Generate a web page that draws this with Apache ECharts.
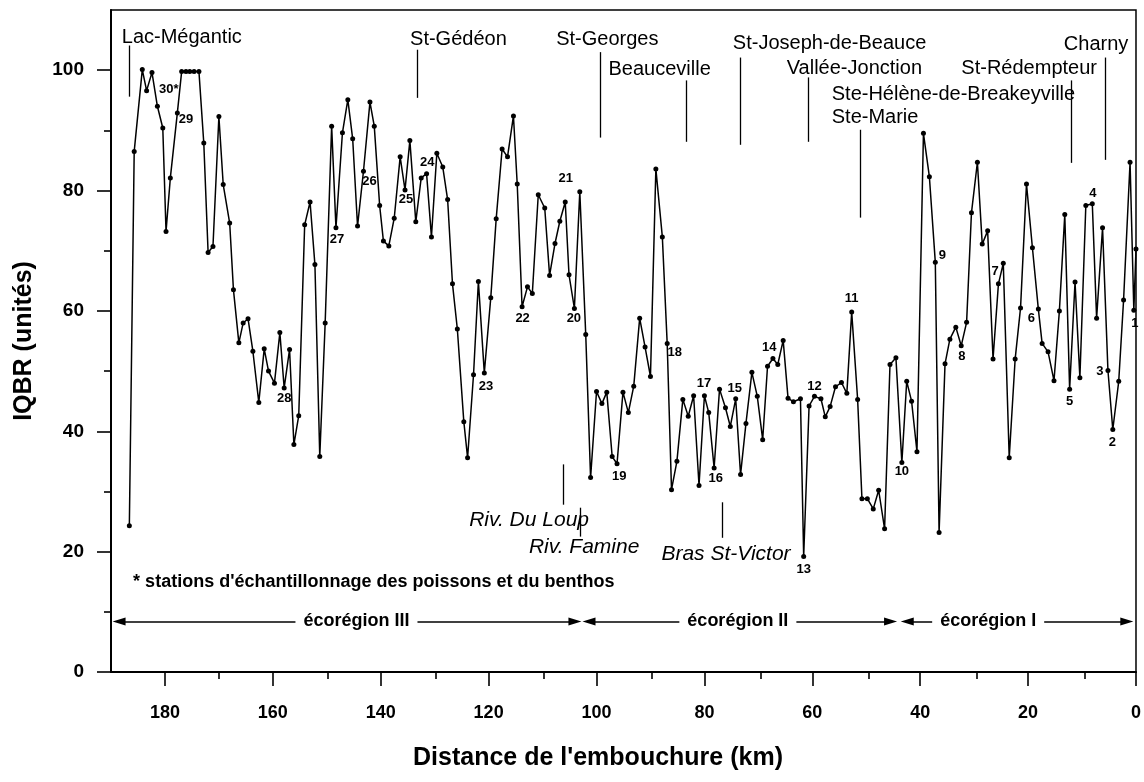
<!DOCTYPE html>
<html>
<head>
<meta charset="utf-8">
<script src="https://cdn.jsdelivr.net/npm/echarts@6/dist/echarts.min.js"></script>
<style>
  html, body { margin: 0; padding: 0; background: #fff; }
  #chart { width: 1144px; height: 782px; }
</style>
</head>
<body>
<div id="chart"></div>
<script>
// distance de l'embouchure (km) et IQBR
const kmValues = [
  186.6, 185.7, 184.2, 183.4, 182.4, 181.4, 180.4, 179.8, 179.0, 177.7,
  176.9, 176.1, 175.4, 174.6, 173.7, 172.8, 172.0, 171.1, 170.0, 169.2,
  168.0, 167.3, 166.3, 165.5, 164.6, 163.7, 162.6, 161.6, 160.8, 159.7,
  158.7, 157.9, 156.9, 156.1, 155.2, 154.1, 153.1, 152.2, 151.3, 150.3,
  149.1, 148.3, 147.1, 146.1, 145.2, 144.3, 143.2, 142.0, 141.2, 140.2,
  139.5, 138.5, 137.5, 136.4, 135.5, 134.6, 133.5, 132.5, 131.5, 130.6,
  129.6, 128.5, 127.6, 126.7, 125.8, 124.6, 123.9, 122.8, 121.9, 120.8,
  119.6, 118.6, 117.5, 116.5, 115.4, 114.7, 113.8, 112.8, 111.9, 110.8,
  109.6, 108.7, 107.7, 106.8, 105.8, 105.1, 104.1, 103.1, 102.0, 101.1,
  100.0, 99.0, 98.1, 97.1, 96.2, 95.1, 94.1, 93.1, 92.0, 91.0,
  90.0, 89.0, 87.8, 86.9, 86.1, 85.1, 84.0, 83.0, 82.0, 81.0,
  80.0, 79.2, 78.2, 77.2, 76.1, 75.2, 74.2, 73.3, 72.3, 71.2,
  70.2, 69.2, 68.3, 67.3, 66.4, 65.4, 64.5, 63.5, 62.2, 61.6,
  60.6, 59.6, 58.4, 57.6, 56.7, 55.7, 54.6, 53.6, 52.7, 51.6,
  50.8, 49.8, 48.7, 47.7, 46.6, 45.6, 44.5, 43.4, 42.5, 41.6,
  40.6, 39.4, 38.3, 37.2, 36.5, 35.4, 34.5, 33.4, 32.4, 31.4,
  30.5, 29.4, 28.5, 27.5, 26.5, 25.5, 24.6, 23.5, 22.4, 21.4,
  20.3, 19.2, 18.1, 17.4, 16.3, 15.2, 14.2, 13.2, 12.3, 11.3,
  10.4, 9.3, 8.1, 7.3, 6.2, 5.2, 4.3, 3.2, 2.3, 1.1,
  0.4, 0
]
const iqbrValues = [
  24.3, 86.5, 100.1, 96.6, 99.6, 94.0, 90.4, 73.2, 82.1, 92.9,
  99.8, 99.8, 99.8, 99.8, 99.8, 87.9, 69.7, 70.7, 92.3, 81.0,
  74.6, 63.5, 54.7, 58.0, 58.7, 53.3, 44.8, 53.7, 50.0, 48.0,
  56.4, 47.2, 53.6, 37.8, 42.6, 74.3, 78.1, 67.7, 35.8, 58.0,
  90.7, 73.8, 89.6, 95.1, 88.6, 74.1, 83.2, 94.7, 90.7, 77.5,
  71.6, 70.8, 75.4, 85.6, 80.1, 88.3, 74.8, 82.1, 82.8, 72.3,
  86.2, 83.9, 78.5, 64.5, 57.0, 41.6, 35.6, 49.4, 64.9, 49.7,
  62.2, 75.3, 86.9, 85.6, 92.4, 81.1, 60.7, 64.0, 62.9, 79.3,
  77.1, 65.9, 71.2, 74.9, 78.1, 66.0, 60.4, 79.8, 56.1, 32.3,
  46.6, 44.6, 46.5, 35.8, 34.6, 46.5, 43.1, 47.5, 58.8, 54.0,
  49.1, 83.6, 72.3, 54.6, 30.3, 35.0, 45.3, 42.5, 45.9, 31.0,
  45.9, 43.1, 33.9, 47.0, 43.9, 40.8, 45.4, 32.8, 41.3, 49.8,
  45.8, 38.6, 50.8, 52.1, 51.1, 55.1, 45.5, 44.9, 45.4, 19.2,
  44.2, 45.8, 45.4, 42.4, 44.1, 47.4, 48.1, 46.3, 59.8, 45.3,
  28.8, 28.8, 27.1, 30.2, 23.8, 51.1, 52.2, 34.8, 48.3, 45.0,
  36.6, 89.5, 82.3, 68.1, 23.2, 51.2, 55.3, 57.3, 54.2, 58.1,
  76.3, 84.7, 71.1, 73.3, 52.0, 64.5, 67.9, 35.6, 52.0, 60.5,
  81.1, 70.5, 60.3, 54.6, 53.2, 48.4, 60.0, 76.0, 47.0, 64.8,
  48.9, 77.5, 77.8, 58.8, 73.8, 50.1, 40.3, 48.3, 61.8, 84.7,
  60.1, 70.3
]

// graduations
const xTicks = [0, 20, 40, 60, 80, 100, 120, 140, 160, 180]
const xMinorTicks = [10, 30, 50, 70, 90, 110, 130, 150, 170]
const yTicks = [0, 20, 40, 60, 80, 100]
const yMinorTicks = [10, 30, 50, 70, 90]

// numéros des stations (position du texte en km / IQBR)
const stationNames = ['1', '2', '3', '4', '5', '6', '7', '8', '9', '10',
  '11', '12', '13', '14', '15', '16', '17', '18', '19', '20',
  '21', '22', '23', '24', '25', '26', '27', '28', '29', '30*']
const stationKm = [0.2, 4.4, 6.7, 8.0, 12.3, 19.4, 26.1, 32.3, 35.9, 43.4,
  52.7, 59.6, 61.6, 68.0, 74.4, 77.9, 80.1, 85.5, 95.8, 104.2,
  105.7, 113.7, 120.5, 131.4, 135.3, 142.1, 148.1, 157.9, 176.1, 179.3]
const stationVal = [58.0, 38.1, 50.0, 79.6, 45.0, 58.8, 66.6, 52.4, 69.2, 33.3,
  62.0, 47.5, 17.1, 53.9, 47.2, 32.1, 48.0, 53.1, 32.5, 58.7,
  82.0, 58.8, 47.5, 84.6, 78.5, 81.5, 71.8, 45.5, 91.9, 96.8]

// municipalités (haut du graphique)
const townNames = ['Lac-Mégantic', 'St-Gédéon', 'St-Georges', 'Beauceville',
  'St-Joseph-de-Beauce', 'Vallée-Jonction', 'Ste-Hélène-de-Breakeyville',
  'Ste-Marie', 'St-Rédempteur', 'Charny']
const townKm = [188.0, 125.6, 98.0, 88.3, 56.8, 52.2, 56.4, 56.4, 19.8, 7.4]
const townVal = [105.4, 105.1, 105.1, 100.1, 104.4, 100.3, 95.9, 92.1, 100.3, 104.2]
const townAlign = ['left', 'center', 'center', 'center', 'center', 'center', 'left', 'left', 'center', 'center']
const townLineKm = [186.6, 133.3, 99.4, 83.4, 73.4, 60.7, 51.1, 12.0, 5.7]
const townLineTop = [104.1, 103.4, 103.0, 98.3, 102.1, 98.8, 90.1, 98.3, 102.1]
const townLineBottom = [95.6, 95.4, 88.8, 88.1, 87.6, 88.1, 75.5, 84.6, 85.1]

// tributaires
const riverNames = ['Riv. Du Loup', 'Riv. Famine', 'Bras St-Victor']
const riverKm = [112.5, 102.3, 76.0]
const riverVal = [25.2, 20.7, 19.5]
const riverLineKm = [106.2, 103.1, 76.7]
const riverLineTop = [34.5, 27.3, 28.2]
const riverLineBottom = [27.8, 22.5, 22.3]

// écorégions
const ecoNames = ['écorégion III', 'écorégion II', 'écorégion I']
const ecoStart = [188.5, 101.4, 42.4]
const ecoEnd = [104.0, 45.5, 1.7]
const ecoLabelKm = [144.5, 73.8, 27.4]
const ecoLevel = 8.4

const legendText = "* stations d'échantillonnage des poissons et du benthos"

const FONT = "'Liberation Sans', Arial, Helvetica, sans-serif"
const chart = echarts.init(document.getElementById('chart'))

const lineData = kmValues.map((km, i) => [km, iqbrValues[i]])

const refLines = townLineKm.map((km, i) => [
  { coord: [km, townLineTop[i]] },
  { coord: [km, townLineBottom[i]] }
]).concat(riverLineKm.map((km, i) => [
  { coord: [km, riverLineTop[i]] },
  { coord: [km, riverLineBottom[i]] }
]))

const ecoArrows = ecoStart.map((km, i) => [
  { coord: [km, ecoLevel] },
  { coord: [ecoEnd[i], ecoLevel] }
])

const tickStyle = { color: '#000', width: 1.6 }
const labelStyle = { color: '#000', fontFamily: FONT, fontWeight: 'bold', fontSize: 18 }
const gridBox = { left: 111, right: 5, top: 10, bottom: 110 }

const option = {
  animation: false,
  backgroundColor: '#fff',
  grid: [
    Object.assign({ show: true, borderColor: '#000', borderWidth: 1.5 }, gridBox),
    Object.assign({ show: false }, gridBox) // grille jumelle : petites graduations
  ],
  xAxis: [
    {
      gridIndex: 0, type: 'value', min: 0, max: 190, interval: 20, inverse: true, position: 'bottom',
      axisLine: { show: true, onZero: false, lineStyle: { color: '#000', width: 2 } },
      axisTick: { show: true, length: 14, customValues: xTicks, lineStyle: tickStyle },
      axisLabel: Object.assign({ customValues: xTicks, margin: 32 }, labelStyle),
      splitLine: { show: false }
    },
    {
      gridIndex: 1, type: 'value', min: 0, max: 190, interval: 10, inverse: true, position: 'bottom',
      axisLine: { show: false, onZero: false },
      axisTick: { show: true, length: 7, customValues: xMinorTicks, lineStyle: tickStyle },
      axisLabel: { show: false },
      splitLine: { show: false }
    }
  ],
  yAxis: [
    {
      gridIndex: 0, type: 'value', min: 0, max: 110, interval: 20, position: 'left',
      axisLine: { show: true, onZero: false, lineStyle: { color: '#000', width: 2 } },
      axisTick: { show: true, length: 14, customValues: yTicks, lineStyle: tickStyle },
      axisLabel: Object.assign({ customValues: yTicks, margin: 27 }, labelStyle, { fontSize: 19 }),
      splitLine: { show: false }
    },
    {
      gridIndex: 1, type: 'value', min: 0, max: 110, interval: 10, position: 'left',
      axisLine: { show: false, onZero: false },
      axisTick: { show: true, length: 7, customValues: yMinorTicks, lineStyle: tickStyle },
      axisLabel: { show: false },
      splitLine: { show: false }
    }
  ],
  series: [
    {
      type: 'line',
      data: lineData,
      xAxisIndex: 0,
      yAxisIndex: 0,
      symbol: 'circle',
      symbolSize: 5,
      itemStyle: { color: '#000' },
      lineStyle: { color: '#000', width: 1.5 },
      z: 3,
      markLine: {
        silent: true,
        symbol: 'none',
        label: { show: false },
        lineStyle: { color: '#000', width: 1.3, type: 'solid' },
        data: refLines
      }
    },
    {
      type: 'line',
      data: [],
      xAxisIndex: 0,
      yAxisIndex: 0,
      markLine: {
        silent: true,
        symbol: ['triangle', 'triangle'],
        symbolSize: [8, 13],
        label: { show: false },
        lineStyle: { color: '#000', width: 1.5, type: 'solid' },
        itemStyle: { color: '#000' },
        data: ecoArrows
      }
    }
  ]
}
chart.setOption(option)

// textes d'annotation placés avec les échelles du graphique
const toPx = (km, v) => chart.convertToPixel({ seriesIndex: 0 }, [km, v])
const textEl = (x, y, text, opts) => ({
  type: 'text',
  x: x,
  y: y,
  z: 100,
  rotation: opts.rotation || 0,
  style: Object.assign({
    text: text,
    fill: '#000',
    fontFamily: FONT,
    fontSize: opts.size,
    fontWeight: opts.weight || 'normal',
    fontStyle: opts.style || 'normal',
    align: opts.align || 'center',
    textAlign: opts.align || 'center',
    verticalAlign: 'middle',
    textVerticalAlign: 'middle'
  }, opts.extra || {})
})

const graphics = []
stationNames.forEach((name, i) => {
  const p = toPx(stationKm[i], stationVal[i])
  graphics.push(textEl(p[0], p[1], name, { size: 13, weight: 'bold' }))
})
townNames.forEach((name, i) => {
  const p = toPx(townKm[i], townVal[i])
  graphics.push(textEl(p[0], p[1], name, { size: 20, align: townAlign[i] }))
})
riverNames.forEach((name, i) => {
  const p = toPx(riverKm[i], riverVal[i])
  graphics.push(textEl(p[0], p[1], name, { size: 21, style: 'italic' }))
})
ecoNames.forEach((name, i) => {
  const p = toPx(ecoLabelKm[i], ecoLevel)
  graphics.push(textEl(p[0], p[1], name, {
    size: 18, weight: 'bold',
    extra: { backgroundColor: '#fff', padding: [2, 8] }
  }))
})
const lp = toPx(185.9, 14.9)
graphics.push(textEl(lp[0], lp[1], legendText, { size: 18, weight: 'bold', align: 'left' }))

graphics.push(textEl(598, 758, "Distance de l'embouchure (km)", { size: 25, weight: 'bold' }))
graphics.push(textEl(24, 341, 'IQBR (unités)', { size: 25, weight: 'bold', rotation: Math.PI / 2 }))

chart.setOption({ graphic: graphics })
</script>
</body>
</html>
